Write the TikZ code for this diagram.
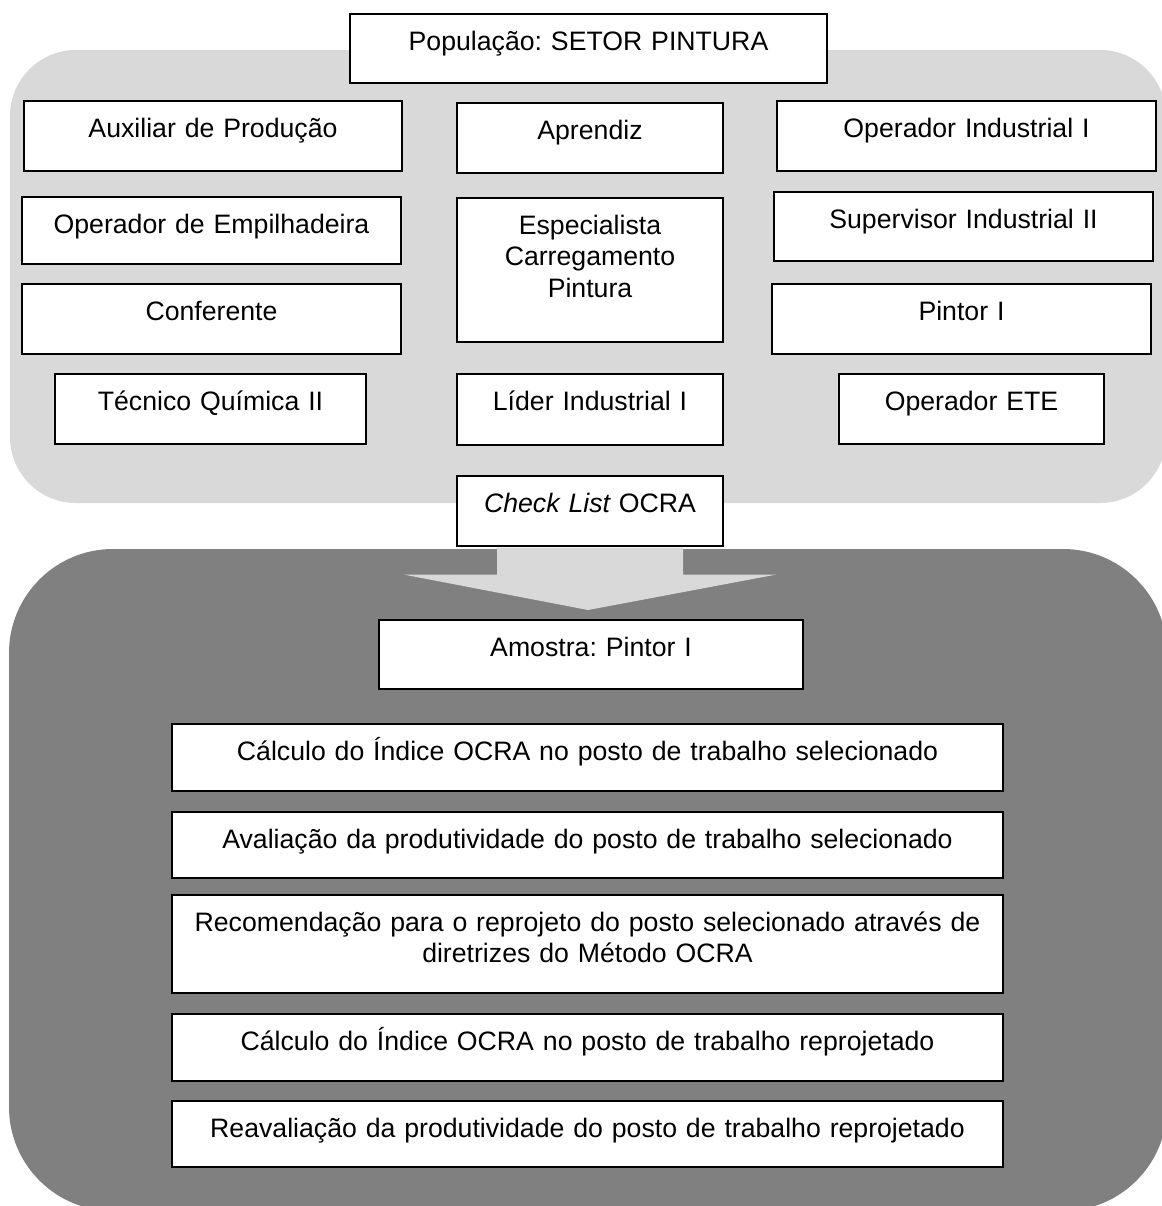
\documentclass[tikz,border=0pt]{standalone}
\usepackage{fontspec}
\setmainfont{Liberation Sans}
\usetikzlibrary{calc}
\definecolor{qlight}{RGB}{217,217,217}
\definecolor{qdark}{RGB}{128,128,128}
\frenchspacing

\begin{document}
\begin{tikzpicture}[x=0.45pt,y=-0.45pt,
  cell/.style 2 args={draw=black, line width=0.75pt, fill=white, anchor=north, align=center,
    inner xsep=0pt, inner ysep=0pt, font=\fontsize{12}{14.2}\selectfont,
    text width=#1*0.45pt, text height=16.4pt, text depth=(#2-36.5)*0.45pt}]
\def\W{1162}
\def\H{1206}

\useasboundingbox (0,0) rectangle (\W,\H);
\clip (0,0) rectangle (\W,\H);
\fill[white] (0,0) rectangle (\W,\H);

%panels
\fill[qlight, rounded corners=29.7pt] (10,50) rectangle (1166,503);
\fill[qdark, rounded corners=46.8pt] (9,549) rectangle (1167,1211);

%population
\node[cell={477}{69}] (pop) at (588.5,13) {População: SETOR PINTURA};

\node[cell={378}{70}] (aux) at (213,100) {Auxiliar de Produção};
\node[cell={266}{70}] (apr) at (590,102) {Aprendiz};
\node[cell={379}{70}] (opind) at (966.5,100) {Operador Industrial I};

\node[cell={379}{67}] (emp) at (211.5,196) {Operador de Empilhadeira};
\node[cell={266}{144}] (esp) at (590,197) {Especialista\\Carregamento\\Pintura};
\node[cell={379}{69}] (sup) at (963.5,191) {Supervisor Industrial II};

\node[cell={379}{70}] (conf) at (211.5,283) {Conferente};
\node[cell={379}{70}] (pint) at (961.5,283) {Pintor I};

\node[cell={311}{70}] (tec) at (210.5,373) {Técnico Química II};
\node[cell={266}{71}] (lid) at (590,373) {Líder Industrial I};
\node[cell={265}{70}] (ete) at (971.5,373) {Operador ETE};

%method
\node[cell={266}{70}] (check) at (590,475) {\itshape Check List\upshape{} OCRA};

%sample
\node[cell={424}{69}] (amo) at (591,619) {Amostra: Pintor I};

\node[cell={831}{67}] (calc1) at (587.5,723) {Cálculo do Índice OCRA no posto de trabalho selecionado};
\node[cell={831}{66}] (aval) at (587.5,811) {Avaliação da produtividade do posto de trabalho selecionado};
\node[cell={831}{98}] (rec) at (587.5,894) {Recomendação para o reprojeto do posto selecionado através de\\diretrizes do Método OCRA};
\node[cell={831}{67}] (calc2) at (587.5,1013) {Cálculo do Índice OCRA no posto de trabalho reprojetado};
\node[cell={831}{66}] (reav) at (587.5,1100) {Reavaliação da produtividade do posto de trabalho reprojetado};

%block arrow
\fill[qlight] ($(check.south)+(-93,1)$) -- ($(check.south)+(93,1)$) -- ($(check.south)+(93,28)$)
  -- ($(check.south)+(186,28)$) -- ($(amo.north)+(-3,-9)$) -- ($(check.south)+(-186,28)$)
  -- ($(check.south)+(-93,28)$) -- cycle;

\end{tikzpicture}
\end{document}
